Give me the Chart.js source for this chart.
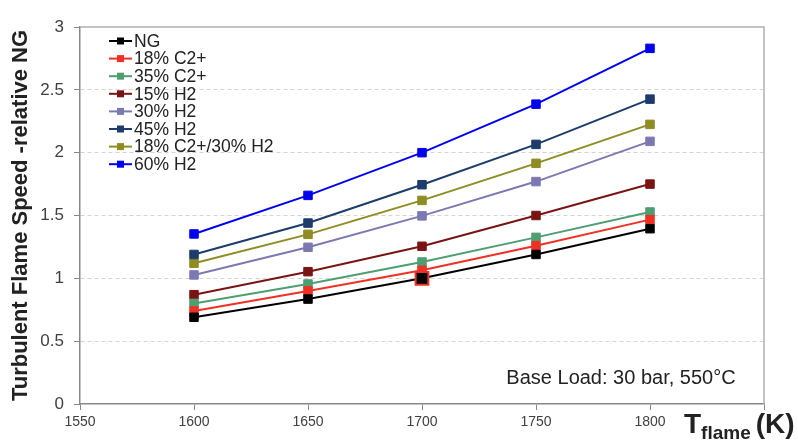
<!DOCTYPE html>
<html>
<head>
<meta charset="utf-8">
<title>Turbulent flame speed</title>
<script src="https://cdn.jsdelivr.net/npm/chart.js@4.4.1/dist/chart.umd.min.js"></script>
<style>
  html, body { margin: 0; padding: 0; background: #fff; }
  #wrap { width: 798px; height: 440px; }
</style>
</head>
<body>
<div id="wrap"><canvas id="chart" width="798" height="440"></canvas></div>
<script>
// flame temperature (K)
const temps = [1600, 1650, 1700, 1750, 1800];
const xTicks = [1550, 1600, 1650, 1700, 1750, 1800];
const yTicks = [0, 0.5, 1, 1.5, 2, 2.5, 3];

// turbulent flame speed relative to NG
const ng = [0.69, 0.835, 1.0, 1.19, 1.395];
const c2_18 = [0.74, 0.9, 1.064, 1.26, 1.467];
const c2_35 = [0.8, 0.955, 1.13, 1.326, 1.528];
const h2_15 = [0.87, 1.053, 1.255, 1.5, 1.75];
const h2_30 = [1.027, 1.247, 1.497, 1.77, 2.09];
const h2_45 = [1.19, 1.44, 1.745, 2.066, 2.426];
const c2h2 = [1.12, 1.35, 1.62, 1.915, 2.225];
const h2_60 = [1.353, 1.66, 2.0, 2.386, 2.83];

const seriesNames = ["NG", "18% C2+", "35% C2+", "15% H2", "30% H2", "45% H2", "18% C2+/30% H2", "60% H2"];
const seriesValues = [ng, c2_18, c2_35, h2_15, h2_30, h2_45, c2h2, h2_60];
const seriesColors = ["#000000", "#ee3124", "#4f9e72", "#7a1414", "#7c79b2", "#1d3c6b", "#8e8c22", "#0000ee"];

Chart.defaults.font.family = '"Liberation Sans", Arial, sans-serif';

const datasets = seriesNames.map((name, i) => {
  const ds = {
    label: name,
    data: temps.map((t, j) => ({ x: t, y: seriesValues[i][j] })),
    borderColor: seriesColors[i],
    backgroundColor: seriesColors[i],
    borderWidth: 2,
    pointStyle: "rect",
    pointRadius: 6,
    pointBorderWidth: 1,
    pointBorderColor: seriesColors[i],
    tension: 0,
  };
  if (i === 0) {
    // the reference point at 1700 K is drawn larger with a red rim
    ds.pointRadius = temps.map((t) => (t === 1700 ? 9 : 6));
    ds.pointBorderColor = temps.map((t) => (t === 1700 ? "#ee3124" : "#000000"));
    ds.pointBorderWidth = temps.map((t) => (t === 1700 ? 2 : 1));
  }
  return ds;
});

// frame, note, axis title and legend drawn on top
const extras = {
  id: "extras",
  afterDraw(chart) {
    const { ctx, chartArea } = chart;
    ctx.save();

    // top / right frame
    ctx.strokeStyle = "#b0b0b0";
    ctx.lineWidth = 1.5;
    ctx.beginPath();
    ctx.moveTo(chartArea.left, chartArea.top);
    ctx.lineTo(chartArea.right, chartArea.top);
    ctx.lineTo(chartArea.right, chartArea.bottom);
    ctx.stroke();

    // note
    ctx.fillStyle = "#222";
    ctx.font = '20px "Liberation Sans", Arial, sans-serif';
    ctx.textAlign = "center";
    ctx.textBaseline = "middle";
    ctx.fillText("Base Load: 30 bar, 550°C", 621, 378);

    // x axis title: T_flame (K)
    ctx.textAlign = "left";
    ctx.textBaseline = "alphabetic";
    ctx.font = 'bold 28px "Liberation Sans", Arial, sans-serif';
    let x = 684;
    ctx.fillText("T", x, 433);
    x += ctx.measureText("T").width;
    ctx.font = 'bold 19px "Liberation Sans", Arial, sans-serif';
    ctx.fillText("flame", x, 439);
    x += ctx.measureText("flame").width + 5;
    ctx.font = 'bold 28px "Liberation Sans", Arial, sans-serif';
    ctx.fillText("(K)", x, 433);

    // legend
    ctx.font = '17.5px "Liberation Sans", Arial, sans-serif';
    ctx.textBaseline = "middle";
    seriesNames.forEach((name, i) => {
      const y = 41 + i * 17.6;
      ctx.strokeStyle = seriesColors[i];
      ctx.lineWidth = 2;
      ctx.beginPath();
      ctx.moveTo(109, y);
      ctx.lineTo(132, y);
      ctx.stroke();
      ctx.fillStyle = seriesColors[i];
      ctx.fillRect(117, y - 3.5, 7, 7);
      ctx.fillStyle = "#222";
      ctx.fillText(name, 134, y + 1);
    });

    ctx.restore();
  },
};

new Chart(document.getElementById("chart"), {
  type: "line",
  data: { datasets },
  options: {
    responsive: false,
    devicePixelRatio: 1,
    animation: false,
    layout: { padding: { top: 27, right: 34, bottom: 0, left: 0 } },
    plugins: {
      legend: { display: false },
      tooltip: { enabled: false },
    },
    scales: {
      x: {
        type: "linear",
        min: 1550,
        max: 1850,
        afterBuildTicks: (scale) => {
          scale.ticks = xTicks.concat([1850]).map((v) => ({ value: v }));
        },
        afterFit: (scale) => {
          scale.height = 36;
        },
        ticks: {
          callback: (v) => (xTicks.includes(v) ? String(v) : ""),
          font: { size: 14 },
          color: "#404040",
          padding: 4,
          maxRotation: 0,
        },
        grid: { drawOnChartArea: false, tickLength: 6, tickColor: "#888", lineWidth: 1 },
        border: { color: "#888", width: 1.5 },
      },
      y: {
        min: 0,
        max: 3,
        afterBuildTicks: (scale) => {
          scale.ticks = yTicks.map((v) => ({ value: v }));
        },
        afterFit: (scale) => {
          scale.width = 80;
        },
        ticks: {
          callback: (v) => String(v),
          font: { size: 17 },
          color: "#404040",
          padding: 10,
        },
        grid: {
          color: (c) => (c.tick && (c.tick.value === 0 || c.tick.value === 3) ? "rgba(0,0,0,0)" : "#d4d4d4"),
          tickColor: "#888",
          tickLength: 6,
          lineWidth: 1,
        },
        border: { color: "#888", width: 1.5, dash: [4, 3] },
        title: {
          display: true,
          text: "Turbulent Flame Speed -relative NG",
          font: { size: 22, weight: "bold" },
          color: "#222",
          padding: { top: 8, bottom: 0 },
        },
      },
    },
  },
  plugins: [extras],
});
</script>
</body>
</html>
